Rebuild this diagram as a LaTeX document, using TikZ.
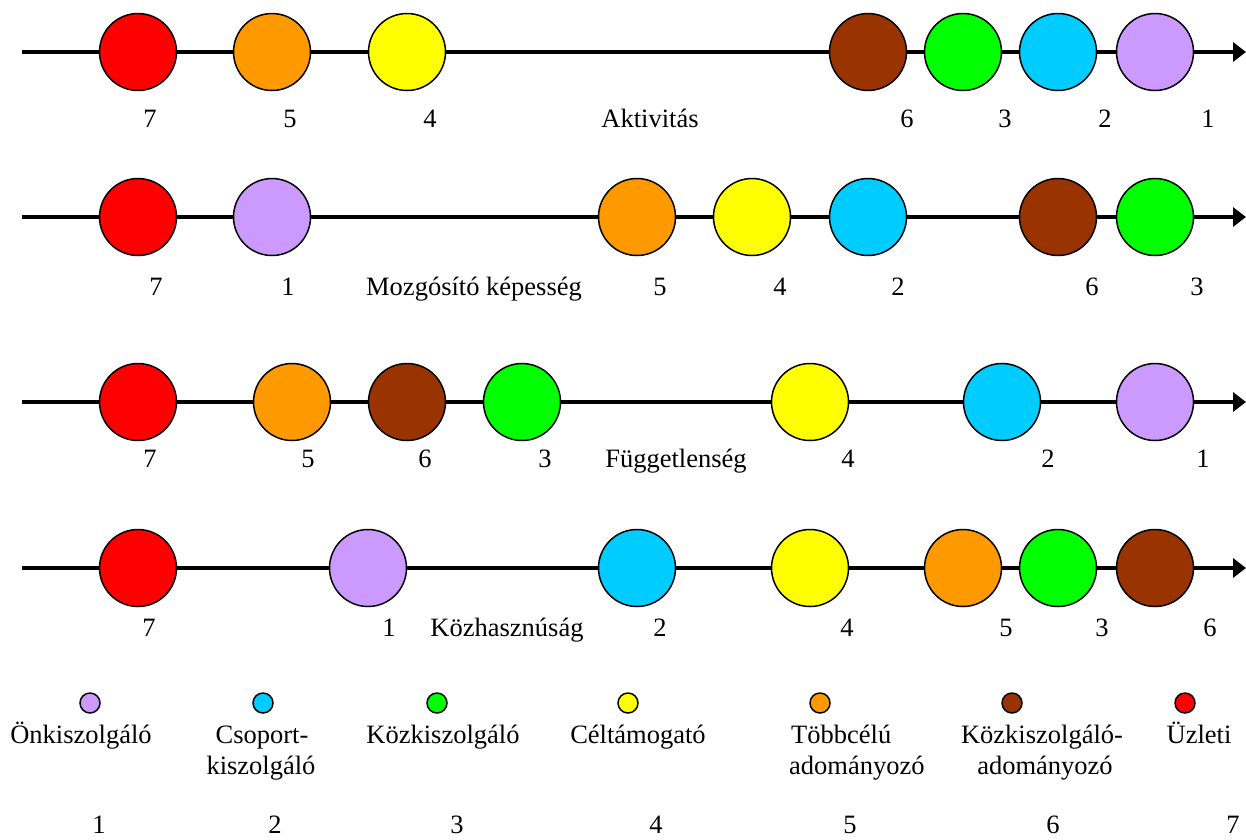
\documentclass[tikz,border=0pt]{standalone}
\usepackage{fontspec}
\setmainfont{Liberation Serif}
\usetikzlibrary{arrows.meta}
\definecolor{cpur}{HTML}{CC99FF}
\definecolor{ccya}{HTML}{00CCFF}
\definecolor{cgre}{HTML}{00FF00}
\definecolor{cyel}{HTML}{FFFF00}
\definecolor{cora}{HTML}{FF9900}
\definecolor{cbro}{HTML}{993300}
\definecolor{cred}{HTML}{FF0000}
\begin{document}
\begin{tikzpicture}[x=1pt,y=-1pt,
  ball/.style={circle,draw=black,line width=1.5pt,minimum size=77pt,inner sep=0pt},
  dot/.style={circle,draw=black,line width=1.5pt,minimum size=20pt,inner sep=0pt},
  axis/.style={line width=4.5pt,-{Triangle[length=13pt,width=19pt]}},
  lbl/.style={anchor=base,inner sep=0pt,font=\fontsize{26.5}{31}\selectfont},
  lblw/.style={anchor=base west,inner sep=0pt,font=\fontsize{26.5}{31}\selectfont}]
\useasboundingbox (0,0) rectangle (1246,839);
% axes
\foreach \n/\y in {1/52,2/217,3/402,4/568}{
  \coordinate (s\n) at (22,\y);
  \coordinate (e\n) at (1246,\y);
  \draw[axis] (s\n) -- (e\n);
}
% row 1
\node[ball,fill=cred] (r1a) at (138,52) {};
\node[ball,fill=cora] (r1b) at (272,52) {};
\node[ball,fill=cyel] (r1c) at (407,52) {};
\node[ball,fill=cbro] (r1d) at (868,52) {};
\node[ball,fill=cgre] (r1e) at (963,52) {};
\node[ball,fill=ccya] (r1f) at (1058,52) {};
\node[ball,fill=cpur] (r1g) at (1155,52) {};
\node[lbl] (t1a) at (150,127) {7};
\node[lbl] (t1b) at (290,127) {5};
\node[lbl] (t1c) at (430,127) {4};
\node[lbl] (t1t) at (650,127) {Aktivitás};
\node[lbl] (t1d) at (907,127) {6};
\node[lbl] (t1e) at (1005,127) {3};
\node[lbl] (t1f) at (1105,127) {2};
\node[lbl] (t1g) at (1208,127) {1};
% row 2
\node[ball,fill=cred] (r2a) at (138,217) {};
\node[ball,fill=cpur] (r2b) at (272,217) {};
\node[ball,fill=cora] (r2c) at (637,217) {};
\node[ball,fill=cyel] (r2d) at (752,217) {};
\node[ball,fill=ccya] (r2e) at (868,217) {};
\node[ball,fill=cbro] (r2f) at (1058,217) {};
\node[ball,fill=cgre] (r2g) at (1155,217) {};
\node[lbl] (t2a) at (156,295) {7};
\node[lbl] (t2b) at (288,295) {1};
\node[lbl] (t2t) at (474,295) {Mozgósító képesség};
\node[lbl] (t2c) at (660,295) {5};
\node[lbl] (t2d) at (780,295) {4};
\node[lbl] (t2e) at (898,295) {2};
\node[lbl] (t2f) at (1092,295) {6};
\node[lbl] (t2g) at (1197,295) {3};
% row 3
\node[ball,fill=cred] (r3a) at (138,402) {};
\node[ball,fill=cora] (r3b) at (292,402) {};
\node[ball,fill=cbro] (r3c) at (407,402) {};
\node[ball,fill=cgre] (r3d) at (522,402) {};
\node[ball,fill=cyel] (r3e) at (810,402) {};
\node[ball,fill=ccya] (r3f) at (1002,402) {};
\node[ball,fill=cpur] (r3g) at (1155,402) {};
\node[lbl] (t3a) at (150,467) {7};
\node[lbl] (t3b) at (308,467) {5};
\node[lbl] (t3c) at (425,467) {6};
\node[lbl] (t3d) at (545,467) {3};
\node[lbl] (t3t) at (676,467) {Függetlenség};
\node[lbl] (t3e) at (848,467) {4};
\node[lbl] (t3f) at (1048,467) {2};
\node[lbl] (t3g) at (1203,467) {1};
% row 4
\node[ball,fill=cred] (r4a) at (138,568) {};
\node[ball,fill=cpur] (r4b) at (368,568) {};
\node[ball,fill=ccya] (r4c) at (637,568) {};
\node[ball,fill=cyel] (r4d) at (810,568) {};
\node[ball,fill=cora] (r4e) at (963,568) {};
\node[ball,fill=cgre] (r4f) at (1058,568) {};
\node[ball,fill=cbro] (r4g) at (1155,568) {};
\node[lbl] (t4a) at (149,636) {7};
\node[lbl] (t4b) at (389,636) {1};
\node[lbl] (t4t) at (507,636) {Közhasznúság};
\node[lbl] (t4c) at (660,636) {2};
\node[lbl] (t4d) at (847,636) {4};
\node[lbl] (t4e) at (1006,636) {5};
\node[lbl] (t4f) at (1102,636) {3};
\node[lbl] (t4g) at (1210,636) {6};
% legend
\node[dot,fill=cpur] (l1) at (90,703) {};
\node[dot,fill=ccya] (l2) at (263,703) {};
\node[dot,fill=cgre] (l3) at (437,703) {};
\node[dot,fill=cyel] (l4) at (628,703) {};
\node[dot,fill=cora] (l5) at (820,703) {};
\node[dot,fill=cbro] (l6) at (1012,703) {};
\node[dot,fill=cred] (l7) at (1185,703) {};
\node[lbl] (lt1) at (81,743) {Önkiszolgáló};
\node[lbl] (lt2a) at (262,743) {Csoport-};
\node[lbl] (lt2b) at (261,774) {kiszolgáló};
\node[lbl] (lt3) at (443,743) {Közkiszolgáló};
\node[lbl] (lt4) at (638,743) {Céltámogató};
\node[lblw] (lt5a) at (791,743) {Többcélú};
\node[lblw] (lt5b) at (789,774) {adományozó};
\node[lbl] (lt6a) at (1042,743) {Közkiszolgáló-};
\node[lbl] (lt6b) at (1045,774) {adományozó};
\node[lbl] (lt7) at (1199,743) {Üzleti};
\node[lbl] (n1) at (99,833) {1};
\node[lbl] (n2) at (275,833) {2};
\node[lbl] (n3) at (457,833) {3};
\node[lbl] (n4) at (656,833) {4};
\node[lbl] (n5) at (850,833) {5};
\node[lbl] (n6) at (1053,833) {6};
\node[lbl] (n7) at (1233,833) {7};
\end{tikzpicture}
\end{document}
